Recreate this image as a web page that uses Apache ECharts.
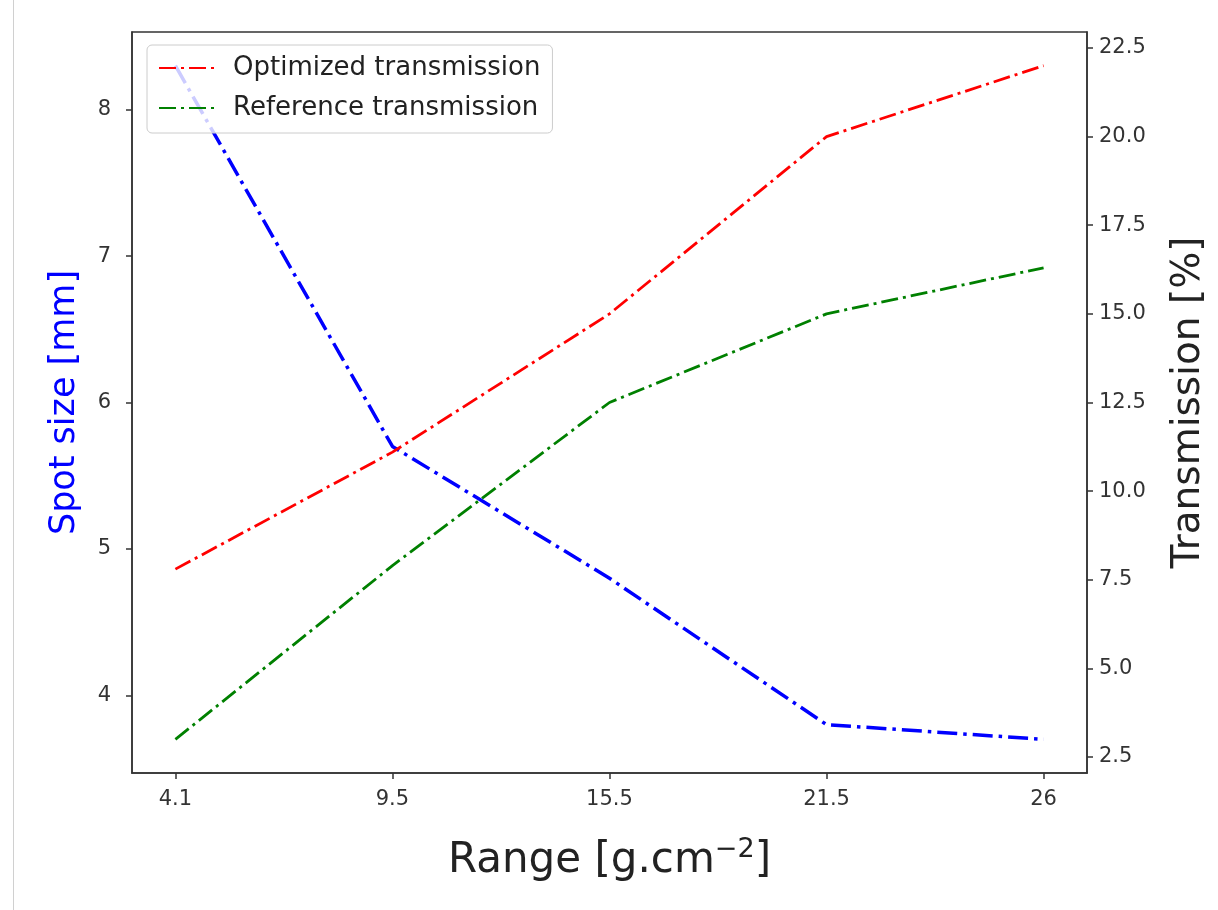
<!DOCTYPE html>
<html>
<head>
<meta charset="utf-8">
<script src="https://cdn.jsdelivr.net/npm/echarts@6/dist/echarts.min.js"></script>
<style>
html,body{margin:0;padding:0;background:#fff;}
#chart{width:1218px;height:910px;}
</style>
</head>
<body>
<div id="chart"></div>
<script>
const rangeLabels = ['4.1', '9.5', '15.5', '21.5', '26'];
const spotSize = [8.3, 5.7, 4.8, 3.8, 3.7];
const optimizedTransmission = [7.8, 11.1, 15.0, 20.0, 22.0];
const referenceTransmission = [3.0, 7.9, 12.5, 15.0, 16.3];
const leftTicks = [4, 5, 6, 7, 8];
const rightTicks = [2.5, 5.0, 7.5, 10.0, 12.5, 15.0, 17.5, 20.0, 22.5];

const toPairs = arr => arr.map((v, i) => [i, v]);
const FONT = 'DejaVu Sans';
const axisCol = '#333';
const tickFont = 21;

const chart = echarts.init(document.getElementById('chart'), null, {renderer: 'canvas'});
chart.setOption({
  animation: false,
  backgroundColor: '#fff',
  textStyle: {fontFamily: FONT},
  grid: {left: 132, right: 131, top: 32, bottom: 137, show: true, borderColor: axisCol, borderWidth: 1.5, backgroundColor: 'transparent'},
  legend: {
    left: 147, top: 45,
    orient: 'vertical',
    data: ['Optimized transmission', 'Reference transmission'],
    itemWidth: 60, itemHeight: 26, itemGap: 14,
    padding: [10, 12, 12, 11],
    itemStyle: {opacity: 0},
    backgroundColor: 'rgba(255,255,255,0.8)',
    borderColor: '#ccc', borderWidth: 1, borderRadius: 5,
    textStyle: {fontFamily: FONT, fontSize: 26, lineHeight: 26, color: '#222', padding: [0, 0, 0, 9]}
  },
  xAxis: {
    type: 'value', min: -0.2, max: 4.2,
    name: 'Range [g.cm{sup|−2}]', nameLocation: 'middle', nameGap: 63,
    nameTextStyle: {fontFamily: FONT, fontSize: 42, color: '#222', lineHeight: 50, verticalAlign: 'top',
      rich: {sup: {fontFamily: FONT, fontSize: 27, color: '#222', verticalAlign: 'top', lineHeight: 27}}},
    axisLine: {show: true, onZero: false, lineStyle: {color: axisCol, width: 1.5}},
    axisTick: {show: true, length: 6, customValues: [0, 1, 2, 3, 4], lineStyle: {color: axisCol, width: 1.5}},
    axisLabel: {customValues: [0, 1, 2, 3, 4], formatter: v => rangeLabels[Math.round(v)], fontFamily: FONT, fontSize: tickFont, color: '#333', margin: 16},
    splitLine: {show: false}
  },
  yAxis: [{
    type: 'value', min: 3.47, max: 8.53, position: 'left',
    name: 'Spot size [mm]', nameLocation: 'middle', nameGap: 50, nameRotate: 90,
    nameTextStyle: {fontFamily: FONT, fontSize: 35, color: '#0000ff'},
    axisLine: {show: true, onZero: false, lineStyle: {color: axisCol, width: 1.5}},
    axisTick: {show: true, length: 6, customValues: leftTicks, lineStyle: {color: axisCol, width: 1.5}},
    axisLabel: {customValues: leftTicks, fontFamily: FONT, fontSize: tickFont, color: '#333', margin: 21},
    splitLine: {show: false}
  }, {
    type: 'value', min: 2.05, max: 22.95, position: 'right',
    name: 'Transmission [%]', nameLocation: 'middle', nameGap: 82, nameRotate: 90,
    nameTextStyle: {fontFamily: FONT, fontSize: 39, color: '#222'},
    axisLine: {show: true, onZero: false, lineStyle: {color: axisCol, width: 1.5}},
    axisTick: {show: true, length: 6, customValues: rightTicks, lineStyle: {color: axisCol, width: 1.5}},
    axisLabel: {customValues: rightTicks, formatter: v => v.toFixed(1), fontFamily: FONT, fontSize: tickFont, color: '#333', margin: 12},
    splitLine: {show: false}
  }],
  series: [{
    name: 'Spot size', type: 'line', yAxisIndex: 0,
    data: toPairs(spotSize), showSymbol: false, symbol: 'none',
    lineStyle: {color: '#0000ff', width: 3.5, type: [20, 6, 3.5, 6]}, itemStyle: {color: '#0000ff'}
  }, {
    name: 'Optimized transmission', type: 'line', yAxisIndex: 1,
    data: toPairs(optimizedTransmission), symbol: 'none',
    lineStyle: {color: '#ff0000', width: 2.8, type: [17, 5, 3, 5]}, itemStyle: {color: '#ff0000'}
  }, {
    name: 'Reference transmission', type: 'line', yAxisIndex: 1,
    data: toPairs(referenceTransmission), symbol: 'none',
    lineStyle: {color: '#008000', width: 2.8, type: [17, 5, 3, 5]}, itemStyle: {color: '#008000'}
  }],
  graphic: [{
    type: 'line', shape: {x1: 13.5, y1: 0, x2: 13.5, y2: 910}, style: {stroke: '#d0d0d0', lineWidth: 1}, silent: true
  }]
});
</script>
</body>
</html>
